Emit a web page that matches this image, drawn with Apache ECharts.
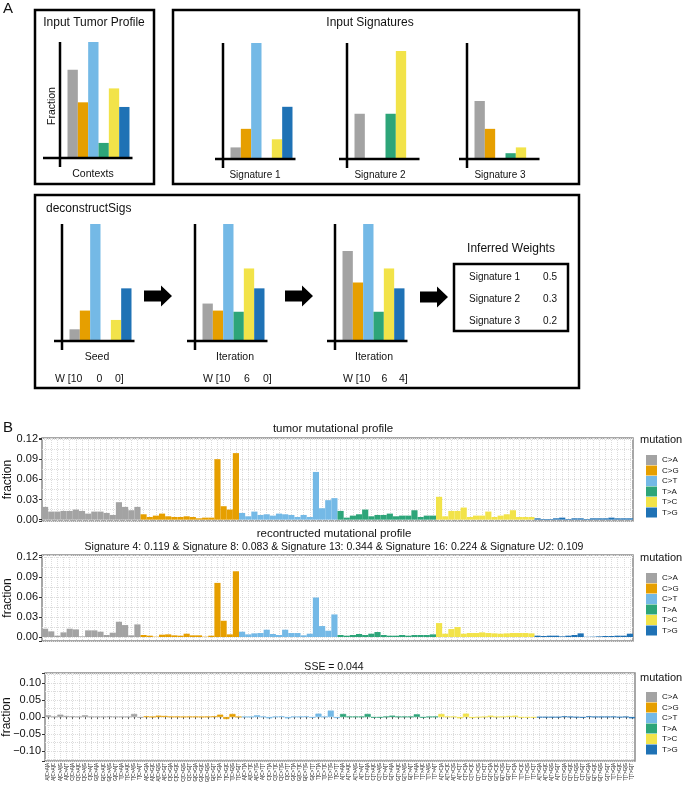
<!DOCTYPE html>
<html><head><meta charset="utf-8">
<script src="https://cdn.jsdelivr.net/npm/echarts@6/dist/echarts.min.js"></script>
<style>html,body{margin:0;padding:0;background:#fff}#c{width:685px;height:787px}</style>
</head><body><div id="c"></div>
<script>
// ---------- categories ----------
const mutationTypes = ['C>A','C>G','C>T','T>A','T>C','T>G'];
const flankBases = ['A','C','G','T'];
const contextLabels = [];
mutationTypes.forEach(m => flankBases.forEach(b5 => flankBases.forEach(b3 => contextLabels.push(b5 + '[' + m + ']' + b3))));
const miniCategories = mutationTypes;

// ---------- panel A values (arbitrary units, 100 = axis top) ----------
const miniTumor = [76, 48, 100, 13, 60, 44];
const miniSig1  = [10, 26, 100, 0, 17, 45];
const miniSig2  = [39, 0, 0, 39, 93, 0];
const miniSig3  = [50, 26, 0, 5, 10, 0];
const miniSeed  = [10, 26, 100, 0, 18, 45];
const miniIter1 = [32, 26, 100, 25, 62, 45];
const miniIter2 = [77, 50, 100, 25, 62, 45];
const inferredNames = ['Signature 1', 'Signature 2', 'Signature 3'];
const inferredWeights = ['0.5', '0.3', '0.2'];

// ---------- panel B: tumor mutational profile ----------
const tumorCA = [0.019,0.012,0.012,0.013,0.013,0.015,0.013,0.009,0.012,0.012,0.010,0.007,0.026,0.019,0.014,0.019];
const tumorCG = [0.008,0.004,0.006,0.009,0.005,0.004,0.004,0.005,0.004,0.002,0.003,0.003,0.090,0.020,0.015,0.099];
const tumorCT = [0.010,0.005,0.012,0.007,0.008,0.006,0.009,0.008,0.007,0.004,0.007,0.004,0.071,0.017,0.029,0.032];
const tumorTA = [0.013,0.003,0.006,0.008,0.015,0.005,0.007,0.007,0.009,0.005,0.006,0.006,0.014,0.004,0.006,0.006];
const tumorTC = [0.034,0.005,0.013,0.013,0.018,0.004,0.006,0.006,0.012,0.004,0.006,0.008,0.014,0.004,0.004,0.004];
const tumorTG = [0.002,0.001,0.001,0.002,0.003,0.001,0.002,0.002,0.001,0.002,0.002,0.002,0.003,0.002,0.002,0.002];
// ---------- reconstructed profile ----------
const reconCA = [0.0125,0.0085,0.002,0.007,0.0125,0.0115,0.001,0.010,0.010,0.008,0.003,0.0065,0.023,0.018,0.0025,0.019];
const reconCG = [0.003,0.002,0.0005,0.0035,0.004,0.0025,0.002,0.005,0.0025,0.0025,0.0005,0.002,0.0815,0.0245,0.004,0.099];
const reconCT = [0.008,0.004,0.0055,0.006,0.011,0.0045,0.003,0.011,0.006,0.006,0.0025,0.005,0.0595,0.0165,0.0095,0.034];
const reconTA = [0.003,0.002,0.003,0.0045,0.003,0.005,0.0075,0.003,0.002,0.002,0.003,0.002,0.003,0.003,0.003,0.004];
const reconTC = [0.021,0.005,0.012,0.015,0.005,0.006,0.006,0.007,0.006,0.0055,0.005,0.0055,0.006,0.006,0.006,0.0055];
const reconTG = [0.002,0.0015,0.002,0.002,0.001,0.002,0.003,0.0055,0.0003,0.0005,0.001,0.0015,0.0015,0.002,0.002,0.005];
// ---------- difference (SSE panel) ----------
const diffCA = [0.005,0.001,0.007,0.003,0.002,0.001,0.005,0.001,0.001,0.001,0.002,0.001,0.001,0.001,0.009,-0.002];
const diffCG = [0.002,0.0005,0.004,0.003,0.001,0.001,0.0005,0.001,0.001,0.0005,0.001,0.002,0.007,-0.006,0.009,0.0005];
const diffCT = [0.0005,0.0005,0.005,0.001,-0.004,0.001,0.002,-0.004,0.001,0.001,0.002,-0.002,0.010,0.001,0.019,-0.003];
const diffTA = [0.009,0.001,0.001,0.001,0.009,-0.002,-0.002,0.001,0.004,0.001,0.001,0.001,0.008,-0.002,0.0005,0.001];
const diffTC = [0.009,0.001,0.001,-0.004,0.010,-0.003,-0.001,0.0005,0.004,0.0005,0.001,0.003,0.004,-0.002,-0.002,-0.002];
const diffTG = [-0.001,-0.001,-0.001,-0.001,0.002,0.0005,-0.001,-0.002,0.002,0.0005,0.0005,0.0005,0.001,-0.001,0.0005,-0.004];

const reconTitle = 'Signature 4: 0.119 & Signature 8: 0.083 & Signature 13: 0.344 & Signature 16: 0.224 & Signature U2: 0.109';
const sseTitle = 'SSE = 0.044';

// ---------- styles / layout ----------
const FONT = '"Liberation Sans", Arial, sans-serif';
const palette = ['#a3a3a3','#E69F00','#74B9E6','#2DA579','#F2E349','#1F72B5'];
const gridLine = {color:'#dcdcdc', width:1, type:[1,1]};

const panelBLayout = [
  {left:42, top:438, width:591, height:83, min:-0.002, max:0.1215, split:4, step:0.03, labels:false, legendTop:450, mutTitleY:440, nameGap:28},
  {left:42, top:555, width:591, height:86, min:-0.006, max:0.1235, split:4, step:0.03, labels:false, legendTop:568, mutTitleY:558, nameGap:28},
  {left:45, top:673, width:590, height:88, min:-0.13, max:0.13, split:5, step:0.05, labels:true, legendTop:687, mutTitleY:678, nameGap:32}
];
const panelBData = [
  [tumorCA,tumorCG,tumorCT,tumorTA,tumorTC,tumorTG],
  [reconCA,reconCG,reconCT,reconTA,reconTC,reconTG],
  [diffCA,diffCG,diffCT,diffTA,diffTC,diffTG]
];

const miniData = [miniTumor, miniSig1, miniSig2, miniSig3, miniSeed, miniIter1, miniIter2];
const miniLayout = [
  {ax:60, by:158, ext:17, h:116},
  {ax:223, by:159, ext:8, h:116},
  {ax:347, by:159, ext:8, h:116},
  {ax:467, by:159, ext:8, h:116},
  {ax:62, by:341, ext:8, h:117},
  {ax:195, by:341, ext:8, h:117},
  {ax:335, by:341, ext:8, h:117}
];

const grids = [], xAxes = [], yAxes = [], series = [], legends = [], graphics = [];

function txt(text, x, y, size, opts) {
  opts = opts || {};
  graphics.push({
    type:'text', x:x, y:y, rotation: opts.rot || 0, z: 10,
    style:{text:text, fontSize:size, fontFamily:FONT, fill: opts.fill || '#111',
      align: opts.align || 'center', textAlign: opts.align || 'center',
      verticalAlign:'middle', textVerticalAlign:'middle', fontWeight: opts.weight || 'normal'}
  });
}
function line(x1,y1,x2,y2,w,c) {
  graphics.push({type:'line', z: 9, shape:{x1,y1,x2,y2}, style:{stroke:c||'#000', lineWidth:w||2.5}});
}
function box(x,y,w,h,lw) {
  graphics.push({type:'rect', z: 9, shape:{x,y,width:w,height:h}, style:{fill:'none', stroke:'#000', lineWidth:lw||2.5}});
}
function arrow(x0, cy) {
  graphics.push({type:'polygon', z: 9, shape:{points:[[x0,cy-5.5],[x0+17,cy-5.5],[x0+17,cy-10.5],[x0+28,cy],[x0+17,cy+10.5],[x0+17,cy+5.5],[x0,cy+5.5]]}, style:{fill:'#000'}});
}

// ---------- panel B ----------
panelBLayout.forEach((L, gi) => {
  grids.push({left:L.left, top:L.top, width:L.width, height:L.height, show:true, borderColor:'#8a8a8a', borderWidth:1.5, backgroundColor:'#fff', containLabel:false, outerBoundsMode:'none'});
  xAxes.push({
    type:'category', gridIndex:gi, data:contextLabels, boundaryGap:true,
    axisLine:{show:false},
    axisTick:{show:L.labels, alignWithLabel:true, interval:0, length:2, lineStyle:{color:'#333', width:0.8}},
    axisLabel:{show:L.labels, interval:0, rotate:90, fontSize:4.5, margin:2, color:'#222', fontFamily:FONT},
    splitLine:{show:true, interval:0, alignWithLabel:true, lineStyle:gridLine}
  });
  yAxes.push({
    type:'value', gridIndex:gi, min:L.min, max:L.max, splitNumber:L.split,
    name:'fraction', nameLocation:'middle', nameGap:L.nameGap, nameRotate:90, nameMoveOverlap:false,
    nameTextStyle:{fontSize:12, color:'#111', fontFamily:FONT},
    axisLine:{show:false},
    axisTick:{show:true, length:3, lineStyle:{color:'#333', width:1}},
    axisLabel:{fontSize:11, color:'#111', margin:4, fontFamily:FONT, formatter: v => {
      const r = Math.round(v / L.step);
      if (Math.abs(v - r * L.step) > 1e-7) return '';
      const a = Math.abs(r * L.step).toFixed(2);
      return r < 0 ? '\u2212' + a : a;
    }},
    splitLine:{show:true, lineStyle:gridLine},
    minorTick:{show:false, splitNumber:2},
    minorSplitLine:{show:true, lineStyle:gridLine}
  });
  panelBData[gi].forEach((arr, m) => {
    const data = new Array(contextLabels.length).fill('-');
    arr.forEach((v, j) => { data[m * 16 + j] = v; });
    series.push({
      type:'bar', name:mutationTypes[m], xAxisIndex:gi, yAxisIndex:gi, stack:'s' + gi,
      barCategoryGap:'0%', data:data, silent:true,
      itemStyle:{color:palette[m], borderColor:palette[m], borderWidth: gi === 2 ? 0.6 : 0}
    });
  });
  legends.push({
    orient:'vertical', left:641, top:L.legendTop, itemWidth:11, itemHeight:10, itemGap:0.5,
    icon:'rect', data:mutationTypes, selectedMode:false,
    textStyle:{fontSize:8, color:'#111', fontFamily:FONT}
  });
  txt('mutation', 640, L.mutTitleY, 11, {align:'left'});
});

// ---------- panel A mini charts ----------
miniData.forEach((vals, k) => {
  const L = miniLayout[k];
  const gi = 3 + k;
  const bx = L.ax + 7.5;
  grids.push({left:bx, top:L.by - L.h, width:62, height:L.h, show:false, outerBoundsMode:'none'});
  xAxes.push({type:'category', gridIndex:gi, data:miniCategories, show:false});
  yAxes.push({type:'value', gridIndex:gi, min:0, max:100, show:false});
  series.push({
    type:'bar', name:'mini' + k, xAxisIndex:gi, yAxisIndex:gi, barCategoryGap:'0%', silent:true,
    data: vals.map((v, i) => ({value:v, itemStyle:{color:palette[i]}}))
  });
  line(L.ax, L.by - L.h, L.ax, L.by + 9, 2.5);
  line(L.ax - L.ext, L.by, bx + 62 + 3, L.by, 2.5);
});

// boxes, arrows, texts of panel A
box(35, 10, 119, 174);
box(173, 10, 406, 174);
box(35, 195, 544, 193);
box(454, 264, 114, 67);
arrow(144, 296);
arrow(285, 296);
arrow(420, 297);

txt('A', 3, 9, 15, {align:'left'});
txt('B', 3, 428, 15, {align:'left'});
txt('Input Tumor Profile', 94, 23, 12);
txt('Fraction', 52, 106, 10.5, {rot:Math.PI/2});
txt('Contexts', 93, 174, 10.5);
txt('Input Signatures', 370, 23, 12);
txt('Signature 1', 255, 175, 10);
txt('Signature 2', 380, 175, 10);
txt('Signature 3', 500, 175, 10);
txt('deconstructSigs', 46, 209, 12, {align:'left'});
txt('Seed', 97, 357, 10.5);
txt('Iteration', 235, 357, 10.5);
txt('Iteration', 374, 357, 10.5);
txt('W [10', 55, 379, 10.5, {align:'left'});
txt('0', 99.5, 379, 10.5);
txt('0]', 115, 379, 10.5, {align:'left'});
txt('W [10', 203, 379, 10.5, {align:'left'});
txt('6', 247, 379, 10.5);
txt('0]', 263, 379, 10.5, {align:'left'});
txt('W [10', 343, 379, 10.5, {align:'left'});
txt('6', 384.5, 379, 10.5);
txt('4]', 399, 379, 10.5, {align:'left'});
txt('Inferred Weights', 511, 249, 12);
inferredNames.forEach((n, i) => {
  txt(n, 469, 277 + 22 * i, 10, {align:'left'});
  txt(inferredWeights[i], 557, 277 + 22 * i, 10, {align:'right'});
});

// panel B titles
txt('tumor mutational profile', 333, 429, 11.5);
txt('recontructed mutational profile', 334, 534, 11.5);
txt(reconTitle, 334, 547, 10.5);
txt(sseTitle, 334, 667, 10.5);

const chart = echarts.init(document.getElementById('c'), null, {renderer:'canvas'});
chart.setOption({
  animation:false,
  backgroundColor:'#fff',
  textStyle:{fontFamily:FONT},
  grid:grids, xAxis:xAxes, yAxis:yAxes, series:series, legend:legends, graphic:graphics
});
</script></body></html>
